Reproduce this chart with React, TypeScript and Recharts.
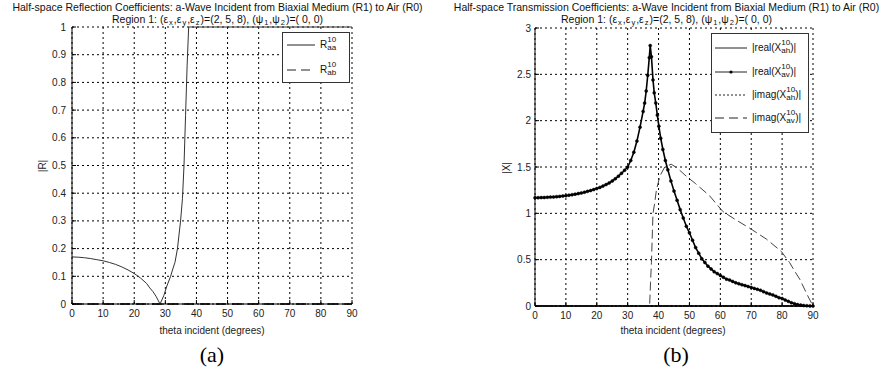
import React from "react";
import { LineChart, Line, XAxis, YAxis, CartesianGrid } from "recharts";

const FONT = "'Liberation Sans', Arial, sans-serif";

// axis ticks
const thetaTicks = [0, 10, 20, 30, 40, 50, 60, 70, 80, 90];
const rTicks = [0, 0.1, 0.2, 0.3, 0.4, 0.5, 0.6, 0.7, 0.8, 0.9, 1];
const xTicks = [0, 0.5, 1, 1.5, 2, 2.5, 3];

// (a) reflection, [theta, |R|]
const rAa: [number, number][] = [
  [0, 0.17], [2, 0.169], [4, 0.167], [6, 0.164], [8, 0.16], [10, 0.156], [12, 0.15],
  [14, 0.143], [16, 0.134], [18, 0.123], [20, 0.11], [22, 0.094], [24, 0.074],
  [25, 0.058], [26, 0.045], [27, 0.028], [28.3, 0], [29.5, 0.03], [30.5, 0.065],
  [31.7, 0.1], [32.5, 0.13], [33.1, 0.15], [33.9, 0.2], [34.9, 0.3], [35.5, 0.38],
  [36, 0.5], [36.5, 0.68], [37, 0.86], [37.5, 1], [90, 1],
];
const rAb: [number, number][] = [[0, 0], [90, 0]];

// (b) transmission, [theta, |X|]
const realAh: [number, number][] = [[0, 0], [90, 0]];
const realAv: [number, number][] = [
  [0, 1.168], [1, 1.169], [2, 1.17], [3, 1.171], [4, 1.173], [5, 1.175], [6, 1.177],
  [7, 1.18], [8, 1.183], [9, 1.187], [10, 1.191], [11, 1.196], [12, 1.201], [13, 1.207],
  [14, 1.213], [15, 1.22], [16, 1.228], [17, 1.237], [18, 1.246], [19, 1.256], [20, 1.267],
  [21, 1.28], [22, 1.294], [23, 1.31], [24, 1.328], [25, 1.349], [26, 1.373], [27, 1.401],
  [28, 1.432], [29, 1.465], [30, 1.5], [31, 1.57], [32, 1.66], [33, 1.78], [34, 1.93],
  [35, 2.1], [35.5, 2.19], [36, 2.32], [36.5, 2.49], [37, 2.68], [37.3, 2.81], [37.7, 2.69],
  [38.2, 2.44], [38.6, 2.3], [39.1, 2.19], [39.6, 2.06], [40.1, 1.94], [40.7, 1.81],
  [41.4, 1.69], [42.2, 1.57], [43, 1.47], [44, 1.35], [45, 1.24], [46, 1.14], [47, 1.04],
  [48, 0.95], [49, 0.86], [50, 0.79], [51, 0.71], [52, 0.63], [53, 0.57], [54, 0.51],
  [55, 0.47], [56, 0.43], [57, 0.4], [58, 0.37], [59, 0.35], [60, 0.33], [61, 0.31],
  [62, 0.29], [63, 0.28], [64, 0.265], [65, 0.25], [66, 0.24], [67, 0.23], [68, 0.22],
  [69, 0.21], [70, 0.2], [71, 0.19], [72, 0.18], [73, 0.17], [74, 0.155], [75, 0.14],
  [76, 0.13], [77, 0.12], [78, 0.105], [79, 0.09], [80, 0.08], [81, 0.065], [82, 0.05],
  [83, 0.035], [84, 0.025], [85, 0.015], [86, 0.01], [87, 0.005], [88, 0.003], [89, 0.001],
  [90, 0],
];
const imagAh: [number, number][] = [[0, 0], [90, 0]];
const imagAv: [number, number][] = [
  [0, 0], [37.1, 0], [37.4, 0.25], [37.7, 0.47], [38, 0.8], [38.2, 1], [38.7, 1.1],
  [39.3, 1.25], [40.4, 1.4], [42, 1.5], [44.1, 1.53], [46, 1.49], [49, 1.4], [52, 1.32],
  [56.5, 1.19], [60.8, 1.02], [65, 0.93], [69.5, 0.84], [75, 0.72], [79.7, 0.59],
  [82.4, 0.47], [84, 0.38], [85.7, 0.29], [88.3, 0.11], [90, 0],
];

const pts = (a: [number, number][]) => a.map(([t, v]) => ({ t, v }));

const tickStyle = { fontSize: 10, fill: "#222", fontFamily: FONT };

function Sym({ base, sub }: { base: string; sub: string }) {
  return (
    <span style={{ whiteSpace: "nowrap" }}>
      {base}
      <span style={{ display: "inline-flex", flexDirection: "column", verticalAlign: "middle", fontSize: 8, lineHeight: "8px", marginTop: -2 }}>
        <span>10</span>
        <span>{sub}</span>
      </span>
    </span>
  );
}

function LegendRow({ top, left, lineW, dash, dot, children }: any) {
  return (
    <div style={{ position: "absolute", top: top - 9, left, height: 18, display: "flex", alignItems: "center" }}>
      <svg width={lineW} height={10} style={{ marginRight: 5 }}>
        <line x1={0} y1={5} x2={lineW} y2={5} stroke="#222" strokeWidth={1} strokeDasharray={dash} />
        {dot && <circle cx={lineW / 2} cy={5} r={1.6} fill="#000" />}
      </svg>
      <span style={{ fontSize: 10, fontFamily: FONT, color: "#111" }}>{children}</span>
    </div>
  );
}

export default function App() {
  const leftTitle = "Half-space Reflection Coefficients: a-Wave Incident from Biaxial Medium (R1) to Air (R0)";
  const rightTitle = "Half-space Transmission Coefficients: a-Wave Incident from Biaxial Medium (R1) to Air (R0)";
  const region = (
    <>
      Region 1: (ε<sub>x</sub>,ε<sub>y</sub>,ε<sub>z</sub>)=(2, 5, 8), (ψ<sub>1</sub>,ψ<sub>2</sub>)=( 0, 0)
    </>
  );
  const titleStyle: React.CSSProperties = {
    position: "absolute", width: 447, textAlign: "center", fontSize: 10.5, fontFamily: FONT, color: "#111", lineHeight: "12px",
  };

  return (
    <div style={{ position: "absolute", left: 0, top: 0, width: 894, height: 376, background: "#fff", overflow: "hidden" }}>
      <style>{`sub{font-size:7.5px;line-height:0;vertical-align:-2px;margin:0 1px}`}</style>

      {/* (a) */}
      <div style={{ ...titleStyle, left: -6, top: 1 }}>{leftTitle}</div>
      <div style={{ ...titleStyle, left: -6, top: 13 }}>{region}</div>
      <div style={{ position: "absolute", left: 0, top: 0 }}>
        <LineChart width={447} height={376} margin={{ top: 27, right: 95, bottom: 42, left: 32 }}>
          <CartesianGrid stroke="#000" strokeDasharray="2 3" />
          <XAxis dataKey="t" type="number" domain={[0, 90]} ticks={thetaTicks} allowDuplicatedCategory={false}
            height={30} tick={tickStyle} tickSize={-4} tickMargin={10} axisLine={{ stroke: "#000" }} tickLine={{ stroke: "#000" }} />
          <XAxis xAxisId="top" orientation="top" type="number" domain={[0, 90]} ticks={thetaTicks} height={0}
            tick={false} tickSize={-4} axisLine={{ stroke: "#555" }} tickLine={{ stroke: "#000" }} />
          <YAxis dataKey="v" type="number" domain={[0, 1]} ticks={rTicks} width={40} tick={tickStyle}
            tickSize={-4} tickMargin={10} axisLine={{ stroke: "#000" }} tickLine={{ stroke: "#000" }} />
          <YAxis yAxisId="right" orientation="right" type="number" domain={[0, 1]} ticks={rTicks} width={0}
            tick={false} tickSize={-4} axisLine={{ stroke: "#000" }} tickLine={{ stroke: "#000" }} />
          <Line data={pts(rAb)} dataKey="v" type="linear" stroke="#000" strokeWidth={1.6} strokeDasharray="10 6" dot={false} isAnimationActive={false} />
          <Line data={pts(rAa)} dataKey="v" type="linear" stroke="#333" strokeWidth={1} dot={false} isAnimationActive={false} />
        </LineChart>
      </div>
      <div style={{ position: "absolute", left: 0, width: 424, top: 325, textAlign: "center", fontSize: 10, fontFamily: FONT, color: "#222" }}>theta incident (degrees)</div>
      <div style={{ position: "absolute", left: 42, top: 166, transform: "translate(-50%,-50%) rotate(-90deg)", fontSize: 10, fontFamily: FONT, color: "#222" }}>|R|</div>
      <div style={{ position: "absolute", left: 0, width: 424, top: 342, textAlign: "center", fontSize: 22, fontFamily: "'Liberation Serif', serif" }}>(a)</div>

      <div style={{ position: "absolute", left: 282, top: 32, width: 68, height: 51, border: "1px solid #333", background: "#fff", boxSizing: "border-box" }} />
      <LegendRow top={45} left={287} lineW={28}>
        <Sym base="R" sub="aa" />
      </LegendRow>
      <LegendRow top={70} left={287} lineW={28} dash="9 5">
        <Sym base="R" sub="ab" />
      </LegendRow>

      {/* (b) */}
      <div style={{ ...titleStyle, left: 443, top: 1 }}>{rightTitle}</div>
      <div style={{ ...titleStyle, left: 443, top: 13 }}>{region}</div>
      <div style={{ position: "absolute", left: 447, top: 0 }}>
        <LineChart width={447} height={376} margin={{ top: 28, right: 81, bottom: 40, left: 48 }}>
          <CartesianGrid stroke="#000" strokeDasharray="2 3" />
          <XAxis dataKey="t" type="number" domain={[0, 90]} ticks={thetaTicks} allowDuplicatedCategory={false}
            height={30} tick={tickStyle} tickSize={-4} tickMargin={10} axisLine={{ stroke: "#000", strokeWidth: 1.5 }} tickLine={{ stroke: "#000" }} />
          <XAxis xAxisId="top" orientation="top" type="number" domain={[0, 90]} ticks={thetaTicks} height={0}
            tick={false} tickSize={-4} axisLine={{ stroke: "#000", strokeDasharray: "2 1" }} tickLine={{ stroke: "#000" }} />
          <YAxis dataKey="v" type="number" domain={[0, 3]} ticks={xTicks} width={40} tick={tickStyle}
            tickSize={-4} tickMargin={8} axisLine={{ stroke: "#000" }} tickLine={{ stroke: "#000" }} />
          <YAxis yAxisId="right" orientation="right" type="number" domain={[0, 3]} ticks={xTicks} width={0}
            tick={false} tickSize={-4} axisLine={{ stroke: "#000" }} tickLine={{ stroke: "#000" }} />
          <Line data={pts(realAh)} dataKey="v" type="linear" stroke="#000" strokeWidth={1} dot={false} isAnimationActive={false} />
          <Line data={pts(imagAh)} dataKey="v" type="linear" stroke="#000" strokeWidth={1} strokeDasharray="2 2" dot={false} isAnimationActive={false} />
          <Line data={pts(imagAv)} dataKey="v" type="linear" stroke="#444" strokeWidth={1} strokeDasharray="9 4" dot={false} isAnimationActive={false} />
          <Line data={pts(realAv)} dataKey="v" type="linear" stroke="#000" strokeWidth={1.6}
            dot={{ r: 1.5, fill: "#000", stroke: "#000", strokeWidth: 0.5 }} isAnimationActive={false} />
        </LineChart>
      </div>
      <div style={{ position: "absolute", left: 447, width: 452, top: 325, textAlign: "center", fontSize: 10, fontFamily: FONT, color: "#222" }}>theta incident (degrees)</div>
      <div style={{ position: "absolute", left: 506, top: 168, transform: "translate(-50%,-50%) rotate(-90deg)", fontSize: 10, fontFamily: FONT, color: "#222" }}>|X|</div>
      <div style={{ position: "absolute", left: 447, width: 458, top: 342, textAlign: "center", fontSize: 22, fontFamily: "'Liberation Serif', serif" }}>(b)</div>

      <div style={{ position: "absolute", left: 711, top: 33, width: 98, height: 100, border: "1px solid #333", background: "#fff", boxSizing: "border-box" }} />
      <LegendRow top={48} left={715} lineW={32}>
        |real(<Sym base="X" sub="ah" />)|
      </LegendRow>
      <LegendRow top={72} left={715} lineW={32} dot>
        |real(<Sym base="X" sub="av" />)|
      </LegendRow>
      <LegendRow top={95} left={715} lineW={32} dash="2 2">
        |imag(<Sym base="X" sub="ah" />)|
      </LegendRow>
      <LegendRow top={118} left={715} lineW={32} dash="9 5">
        |imag(<Sym base="X" sub="av" />)|
      </LegendRow>
    </div>
  );
}
